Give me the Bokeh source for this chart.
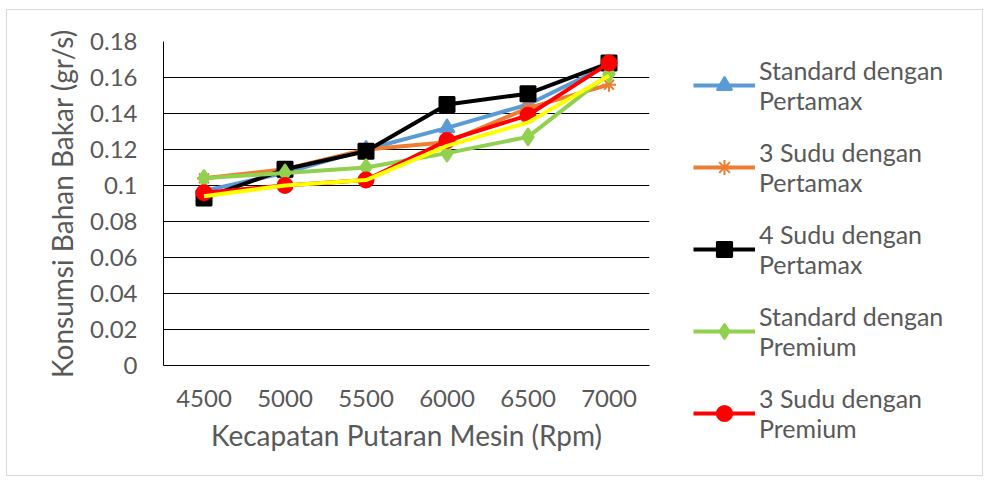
from bokeh.plotting import figure
from bokeh.models import Range1d, FactorRange, FixedTicker, Legend, LegendItem
from bokeh.embed import file_html
from bokeh.resources import INLINE

rpm = ["4500", "5000", "5500", "6000", "6500", "7000"]
standard_pertamax = [0.097, 0.107, 0.120, 0.132, 0.145, 0.167]
sudu3_pertamax = [0.104, 0.109, 0.120, 0.124, 0.143, 0.156]
sudu4_pertamax = [0.093, 0.109, 0.119, 0.145, 0.151, 0.168]
standard_premium = [0.104, 0.107, 0.110, 0.118, 0.127, 0.162]
sudu3_premium = [0.096, 0.100, 0.103, 0.125, 0.139, 0.168]
sudu4_premium = [0.094, 0.100, 0.103, 0.122, 0.135, 0.161]

y_ticks = [0, 0.02, 0.04, 0.06, 0.08, 0.1, 0.12, 0.14, 0.16, 0.18]
y_tick_labels = ["0", "0.02", "0.04", "0.06", "0.08", "0.1", "0.12", "0.14", "0.16", "0.18"]

series = [
    ("Standard dengan\nPertamax", standard_pertamax, "#5B9BD5", "triangle", 15),
    ("3 Sudu dengan\nPertamax", sudu3_pertamax, "#ED7D31", "asterisk", 14),
    ("4 Sudu dengan\nPertamax", sudu4_pertamax, "#000000", "square", 15),
    ("Standard dengan\nPremium", standard_premium, "#92D050", "diamond", 17),
    ("3 Sudu dengan\nPremium", sudu3_premium, "#FF0000", "circle", 15),
    ("4 Sudu dengan\nPremium", sudu4_premium, "#FFFF00", None, 0),
]

FONT = "Lato"
GREY = "#595959"

# main chart (its canvas also spans the legend area, framed by a light border)
p = figure(width=977, height=467, x_range=FactorRange(*rpm), y_range=Range1d(0, 0.18),
           output_backend="svg", toolbar_location=None,
           min_border_left=156, min_border_right=335, min_border_top=31, min_border_bottom=112)
p.styles = {"border": "1px solid #d9d9d9", "margin-left": "6px", "margin-top": "9px"}
p.outline_line_color = None
p.background_fill_color = "white"
p.border_fill_color = "white"

p.xgrid.grid_line_color = None
p.ygrid.grid_line_color = "#000000"
p.ygrid.grid_line_width = 1
p.ygrid.ticker = FixedTicker(ticks=y_ticks)

p.yaxis.ticker = FixedTicker(ticks=y_ticks)
p.yaxis.major_label_overrides = {t: l for t, l in zip(y_ticks, y_tick_labels)}
for ax in (p.xaxis[0], p.yaxis[0]):
    ax.axis_line_color = "#000000"
    ax.axis_line_width = 1
    ax.major_tick_line_color = None
    ax.minor_tick_line_color = None
    ax.major_tick_out = 0
    ax.major_tick_in = 0
    ax.minor_tick_out = 0
    ax.major_label_text_font = FONT
    ax.major_label_text_font_size = "24px"
    ax.major_label_text_color = GREY
    ax.axis_label_text_font = FONT
    ax.axis_label_text_font_size = "28px"
    ax.axis_label_text_font_style = "normal"
    ax.axis_label_text_color = GREY

p.yaxis.axis_label = "Konsumsi Bahan Bakar (gr/s)"
p.xaxis.axis_label = "Kecapatan Putaran Mesin (Rpm)"
p.yaxis.major_label_standoff = 26
p.xaxis.major_label_standoff = 24
p.yaxis.axis_label_standoff = 8
p.xaxis.axis_label_standoff = 8

for label, vals, color, marker, size in series:
    p.line(rpm, vals, line_color=color, line_width=4)
    if marker:
        p.scatter(rpm, vals, marker=marker, size=size, fill_color=color,
                  line_color=color, line_width=2)

# legend overlay: same series drawn outside its visible range, only the legend shows
q = figure(width=320, height=466, x_range=FactorRange(*rpm), y_range=Range1d(10, 11),
           output_backend="svg", toolbar_location=None,
           min_border_left=33, min_border_right=0, min_border_top=45, min_border_bottom=0)
q.styles = {"position": "absolute", "left": "660px", "top": "10px"}
q.outline_line_color = None
q.axis.visible = False
q.grid.visible = False
q.background_fill_alpha = 0
q.border_fill_alpha = 0

items = []
for label, vals, color, marker, size in series:
    if not marker:
        continue
    rl = q.line(rpm, vals, line_color=color, line_width=4)
    rm = q.scatter(rpm, vals, marker=marker, size=size, fill_color=color,
                   line_color=color, line_width=2)
    items.append(LegendItem(label=label, renderers=[rl, rm]))

legend = Legend(items=items, location="top_left", orientation="vertical")
legend.border_line_color = None
legend.background_fill_alpha = 0
legend.label_text_font = FONT
legend.label_text_font_size = "25px"
legend.label_text_color = GREY
legend.glyph_width = 62
legend.glyph_height = 38
legend.label_standoff = 4
legend.spacing = 22
legend.padding = 0
legend.margin = 0
q.add_layout(legend, "center")

open("out.html", "w").write(file_html([p, q], INLINE))
